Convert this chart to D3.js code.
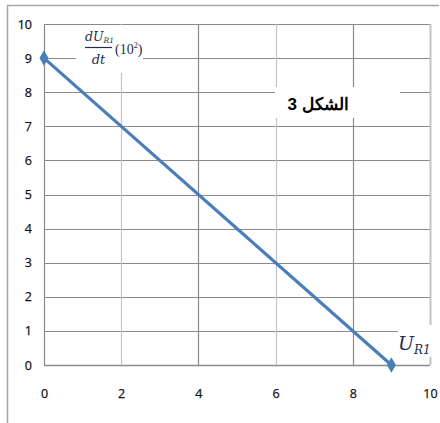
<!DOCTYPE html>
<html>
<head>
<meta charset="utf-8">
<script src="https://cdn.jsdelivr.net/npm/d3@7"></script>
<style>
  body { margin: 0; background: #fff; }
  svg { display: block; }
</style>
</head>
<body>
<svg id="chart" width="440" height="423"></svg>
<script>
const xValues = [0, 9];
const yValues = [9, 0];
const xTicks = [0, 2, 4, 6, 8, 10];
const yTicks = [0, 1, 2, 3, 4, 5, 6, 7, 8, 9, 10];
const titleText = "الشكل 3";

const svg = d3.select("#chart");
const x = d3.scaleLinear().domain([0, 10]).range([44, 430]);
const y = d3.scaleLinear().domain([0, 10]).range([365, 24]);
const tickFont = "'Liberation Sans Narrow', 'Open Sans', sans-serif";

// outer frame
svg.append("line").attr("x1", 7.5).attr("x2", 7.5).attr("y1", 5.5).attr("y2", 423)
  .attr("stroke", "#a6a6a6").attr("stroke-width", 1.5);
svg.append("line").attr("x1", 7).attr("x2", 439).attr("y1", 5.5).attr("y2", 5.5)
  .attr("stroke", "#a6a6a6").attr("stroke-width", 1.5);

// grid
const g = svg.append("g");
yTicks.forEach(t => {
  g.append("line").attr("x1", x(0)).attr("x2", x(10)).attr("y1", Math.round(y(t)) + 0.5).attr("y2", Math.round(y(t)) + 0.5)
    .attr("stroke", "#8a8a8a").attr("stroke-width", t === 0 ? 1.5 : 1.2);
});
xTicks.forEach(t => {
  const light = (t === 2 || t === 6 || t === 10);
  g.append("line").attr("x1", Math.round(x(t)) + 0.5).attr("x2", Math.round(x(t)) + 0.5).attr("y1", y(10)).attr("y2", y(0))
    .attr("stroke", light ? "#c4c4c4" : "#8a8a8a").attr("stroke-width", t === 10 ? 2 : 1.2);
});

// axis tick labels via d3 axes (no domain/tick lines)
const xAxis = svg.append("g").attr("transform", `translate(0,${y(0)})`)
  .call(d3.axisBottom(x).tickValues(xTicks).tickSize(0).tickPadding(24).tickFormat(d3.format("d")));
const yAxis = svg.append("g").attr("transform", `translate(${x(0)},0)`)
  .call(d3.axisLeft(y).tickValues(yTicks).tickSize(0).tickPadding(12).tickFormat(d3.format("d")));
[xAxis, yAxis].forEach(a => {
  a.select(".domain").remove();
  a.selectAll("text").attr("font-family", tickFont).attr("font-size", 12.5).attr("fill", "#111")
    .attr("stroke", "#111").attr("stroke-width", 0.25);
});

// data line
const line = d3.line().x(d => x(d[0])).y(d => y(d[1]));
const pts = xValues.map((v, i) => [v, yValues[i]]);
svg.append("path").datum(pts).attr("d", line).attr("fill", "none")
  .attr("stroke", "#4a7ebb").attr("stroke-width", 3.2);
svg.selectAll(".mk").data(pts).enter().append("path")
  .attr("transform", d => `translate(${x(d[0])},${y(d[1])})`)
  .attr("d", d3.symbol().type(d3.symbolDiamond).size(70))
  .attr("fill", "#4a7ebb");

// y-axis label with white box
svg.append("rect").attr("x", 76).attr("y", 25).attr("width", 67).attr("height", 48).attr("fill", "#fff");
const lab = svg.append("g").attr("font-family", "'DejaVu Serif', 'Liberation Serif', serif").attr("fill", "#1f2d4a");
const num = lab.append("text").attr("x", 85).attr("y", 41).attr("font-style", "italic").attr("font-size", 12.5);
num.append("tspan").text("dU");
num.append("tspan").attr("font-size", 7.5).attr("dy", 2).text("R1");
lab.append("line").attr("x1", 85).attr("x2", 112).attr("y1", 47.5).attr("y2", 47.5).attr("stroke", "#1f2d4a").attr("stroke-width", 1.2);
lab.append("text").attr("x", 98.5).attr("y", 64).attr("text-anchor", "middle").attr("font-style", "italic").attr("font-size", 13).text("dt");
const p = lab.append("text").attr("x", 115).attr("y", 54).attr("font-family", "'Liberation Serif', serif").attr("font-size", 14);
p.append("tspan").text("(10");
p.append("tspan").attr("font-size", 8).attr("dy", -6).text("2");
p.append("tspan").attr("dy", 6).text(")");

// title box
svg.append("rect").attr("x", 275).attr("y", 87).attr("width", 125).attr("height", 31).attr("fill", "#fff");
svg.append("text").attr("x", 318).attr("y", 110).attr("text-anchor", "middle")
  .attr("font-family", "'Liberation Sans Narrow', 'Liberation Sans', Arial, sans-serif").attr("font-weight", "bold").attr("font-size", 17)
  .attr("fill", "#000").text(titleText);

// U_R1 label
svg.append("rect").attr("x", 398).attr("y", 325).attr("width", 34).attr("height", 32).attr("fill", "#fff");
const u = svg.append("text").attr("x", 398).attr("y", 350).attr("font-family", "'DejaVu Serif', 'Liberation Serif', serif")
  .attr("font-style", "italic").attr("fill", "#1f2d4a").attr("font-size", 19);
u.append("tspan").text("U");
u.append("tspan").attr("font-size", 12).attr("dy", 4).text("R1");
</script>
</body>
</html>
